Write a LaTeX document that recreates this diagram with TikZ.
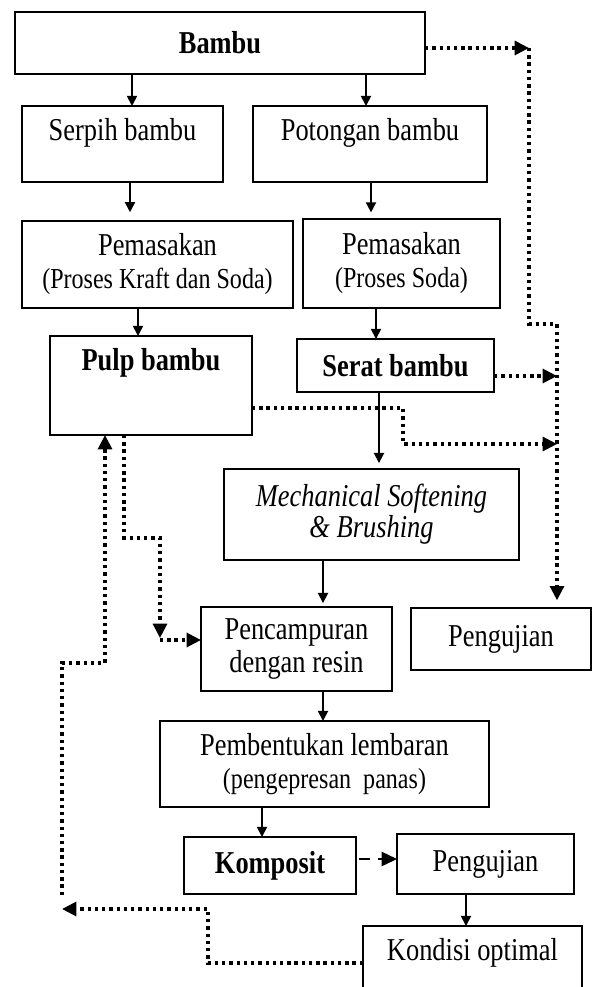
\documentclass[tikz,border=0pt]{standalone}
\usepackage{fontspec}
\setmainfont{Liberation Serif}[FakeStretch=0.83]
\usetikzlibrary{arrows.meta}

\begin{document}
\begin{tikzpicture}[x=0.016cm, y=-0.016cm,
        box/.style 2 args={draw, thick, inner sep=0pt, outer sep=0pt, align=center, font=\fontsize{14.5}{15}\selectfont,
            minimum width=#1*0.016cm, minimum height=#2*0.016cm},
        txt/.style={align=center, font=\fontsize{14.5}{15}\selectfont},
        arr/.style={thick, -{Triangle[length=4.6pt, width=4.6pt]}},
        dotarr/.style={line width=1.5pt, dash pattern=on 1.5pt off 1.8pt, -{Triangle[length=6.5pt, width=6.3pt]}}]
        \useasboundingbox (0,0) rectangle (593,987);

        \node[box={410}{62}, font=\fontsize{14.5}{15}\selectfont\bfseries] (bambu) at (220,43) {Bambu};
        \node[box={201}{76}] (serpih) at (122.5,144) {};
        \node[txt] (serpihT) at (122.5,133) {Serpih bambu};
        \node[box={234}{76}] (potongan) at (370,144) {};
        \node[txt] (potonganT) at (370,133) {Potongan bambu};
        \node[box={271}{87}] (pemL) at (157.5,264.5) {Pemasakan\\{\fontsize{13.2}{15}\selectfont (Proses Kraft dan Soda)}};
        \node[box={197}{89}] (pemR) at (401.5,263.5) {Pemasakan\\{\fontsize{13.2}{15}\selectfont (Proses Soda)}};
        \node[box={202}{99}] (pulp) at (151,385.5) {};
        \node[txt, font=\fontsize{14.5}{15}\selectfont\bfseries] (pulpT) at (151,363) {Pulp bambu};
        \node[box={197}{53}, font=\fontsize{14.5}{15}\selectfont\bfseries] (serat) at (395.5,365.5) {Serat bambu};
        \node[box={295}{91}, font=\fontsize{14.5}{14}\selectfont\itshape] (mech) at (371.5,514.5) {Mechanical Softening\\\& Brushing};
        \node[box={191}{84}] (campur) at (296.5,649) {Pencampuran\\dengan resin};
        \node[box={180}{62}] (ujiA) at (501,639) {Pengujian};
        \node[box={329}{86}] (bentuk) at (324.5,764) {Pembentukan lembaran\\{\fontsize{13.2}{15}\selectfont (pengepresan~ panas)}};
        \node[box={172}{57}, font=\fontsize{14.5}{15}\selectfont\bfseries] (komposit) at (270,865.5) {Komposit};
        \node[box={177}{60}] (ujiB) at (485.5,864) {Pengujian};
        \node[box={219}{74}] (kondisi) at (472.5,963) {};
        \node[txt] (kondisiT) at (472.5,953) {Kondisi optimal};

        \draw[arr] (132,0 |- bambu.south) -- (132,0 |- serpih.north);
        \draw[arr] (366,0 |- bambu.south) -- (366,0 |- potongan.north);
        \draw[arr, shorten >=4pt] (130,0 |- serpih.south) -- (130,0 |- pemL.north);
        \draw[arr, shorten >=3pt] (371,0 |- potongan.south) -- (371,0 |- pemR.north);
        \draw[arr] (138,0 |- pemL.south) -- (138,0 |- pulp.north);
        \draw[arr] (376,0 |- pemR.south) -- (376,0 |- serat.north);
        \draw[arr, shorten >=2.7pt] (379,0 |- serat.south) -- (379,0 |- mech.north);
        \draw[arr, shorten >=1.8pt] (323,0 |- mech.south) -- (323,0 |- campur.north);
        \draw[arr] (323,0 |- campur.south) -- (323,0 |- bentuk.north);
        \draw[arr] (262,0 |- bentuk.south) -- (262,0 |- komposit.north);
        \draw[arr] (466,0 |- ujiB.south) -- (466,0 |- kondisi.north);
        \draw[thick, dash pattern=on 5pt off 4pt, -{Triangle[length=7pt, width=6.5pt]}, shorten <=1.2pt] (komposit.east |- 0,859) -- (ujiB.west |- 0,859);

        \coordinate (topR) at (529,48);
        \draw[dotarr] (bambu.east |- topR) -- (topR);
        \draw[dotarr, shorten >=3.5pt] (topR) -- (529,324) -- (557,324) -- (557,0 |- ujiA.north);
        \draw[dotarr] (serat.east |- 0,376) -- (557,376);
        \draw[dotarr] (pulp.east |- 0,408) -- (403,408) -- (403,444) -- (557,444);

        \coordinate (downC) at (160,638);
        \draw[dotarr] (124,0 |- pulp.south) -- (124,538) -- (160,538) -- (downC);
        \draw[dotarr] (160,640) -- (campur.west |- 0,640);

        \coordinate (loopL) at (62,909);
        \draw[dotarr] (kondisi.west |- 0,963) -- (208,963) -- (208,909) -- (loopL);
        \draw[dotarr] (62,895) -- (62,663) -- (105,663) -- (105,0 |- pulp.south);
\end{tikzpicture}
\end{document}
